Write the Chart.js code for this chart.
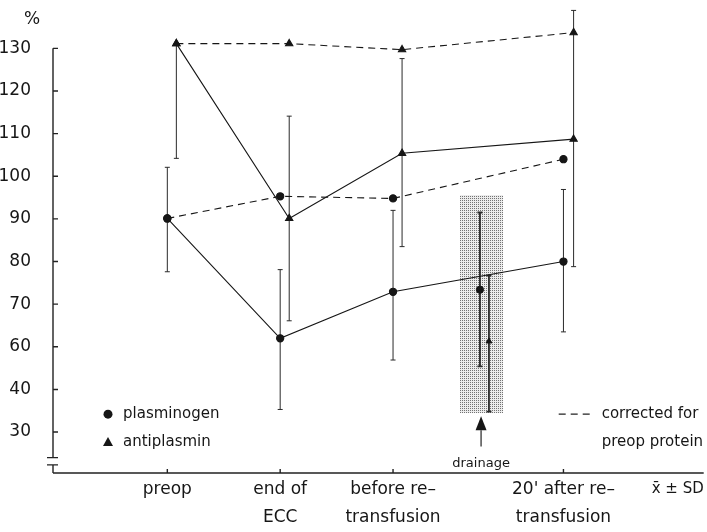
<!DOCTYPE html>
<html>
<head>
<meta charset="utf-8">
<script src="https://cdn.jsdelivr.net/npm/chart.js@4.4.0/dist/chart.umd.min.js"></script>
<style>
  html, body { margin: 0; padding: 0; background: #fff; }
  #wrap { width: 707px; height: 532px; }
</style>
</head>
<body>
<div id="wrap"><canvas id="chart" width="707" height="532"></canvas></div>
<script>
const FONT = 'DejaVu Sans';
const INK = '#161616';

// time points along the x axis (drainage sits between "before" and "20' after")
const categories = ['preop', ['end of', 'ECC'], ['before re\u2013', 'transfusion'], ["20' after re\u2013", 'transfusion']];
const categoryX = [0, 1, 2, 3.51];

// y axis tick positions and the labels printed at them (axis is broken below 60)
const yTickValues = [40, 50, 60, 70, 80, 90, 100, 110, 120, 130];
const yTickLabels = ['30', '40', '60', '70', '80', '90', '100', '110', '120', '130'];

// plasminogen (circles)
const plasminogenX = [0, 1, 2, 3.51];
const plasminogen = [90.1, 62.0, 72.9, 80.0];
const plasminogenHigh = [102.1, 78.1, 92.0, 96.9];
const plasminogenLow = [77.6, 45.3, 56.9, 63.5];
const plasminogenCorrected = [90.1, 95.3, 94.8, 104.0];

// antiplasmin (triangles)
const antiplasminX = [0.08, 1.08, 2.08, 3.6];
const antiplasmin = [131.1, 90.1, 105.4, 108.7];
const antiplasminHigh = [null, 114.1, 127.6, 138.9];
const antiplasminLow = [104.2, 66.1, 83.5, 78.8];
const antiplasminCorrected = [131.1, 131.1, 129.7, 133.7];

// drainage sample
const drainageX = [2.77, 2.85];
const drainageValues = [73.4, 61.3];
const drainageHigh = [91.5, 76.7];
const drainageLow = [55.4, 44.8];
const drainageBoxX = [2.59, 2.97];
const drainageBoxY = [44.6, 95.7];

const pts = (xs, ys) => xs.map((x, i) => ({ x: x, y: ys[i] }));

function stipple(ctx) {
  const c = document.createElement('canvas');
  c.width = 2; c.height = 2;
  const g = c.getContext('2d');
  g.fillStyle = '#ececec';
  g.fillRect(0, 0, 2, 2);
  g.fillStyle = '#737373';
  g.fillRect(0, 0, 1, 1);
  return ctx.createPattern(c, 'repeat');
}

const paperPlugin = {
  id: 'paper',
  beforeDatasetsDraw(chart) {
    const { ctx, scales: { x, y } } = chart;
    ctx.save();
    // stippled drainage box
    const bx0 = x.getPixelForValue(drainageBoxX[0]);
    const bx1 = x.getPixelForValue(drainageBoxX[1]);
    const by0 = y.getPixelForValue(drainageBoxY[1]);
    const by1 = y.getPixelForValue(drainageBoxY[0]);
    ctx.fillStyle = stipple(ctx);
    ctx.fillRect(Math.round(bx0), Math.round(by0), Math.round(bx1 - bx0), Math.round(by1 - by0));

    // error bars (x ± SD)
    ctx.strokeStyle = '#2a2a2a';
    chart.data.datasets.forEach(ds => {
      if (!ds.errLow) return;
      ctx.lineWidth = ds.errWidth || 1;
      ds.data.forEach((p, j) => {
        const px = x.getPixelForValue(p.x);
        const top = ds.errHigh[j] == null ? p.y : ds.errHigh[j];
        const yt = y.getPixelForValue(top);
        const yb = y.getPixelForValue(ds.errLow[j]);
        ctx.beginPath();
        ctx.moveTo(px, yt); ctx.lineTo(px, yb);
        ctx.moveTo(px - 2.5, yb); ctx.lineTo(px + 2.5, yb);
        if (ds.errHigh[j] != null) { ctx.moveTo(px - 2.5, yt); ctx.lineTo(px + 2.5, yt); }
        ctx.stroke();
      });
    });
    ctx.restore();
  },
  afterDraw(chart) {
    const { ctx, chartArea: a, scales: { x, y } } = chart;
    ctx.save();
    ctx.strokeStyle = '#222';
    ctx.lineWidth = 1.4;

    // y axis with break
    const yTop = y.getPixelForValue(130);
    const brk1 = y.getPixelForValue(34.0);
    const brk2 = y.getPixelForValue(32.3);
    ctx.beginPath();
    ctx.moveTo(a.left, yTop); ctx.lineTo(a.left, brk1);
    ctx.moveTo(a.left, brk2); ctx.lineTo(a.left, a.bottom);
    ctx.moveTo(a.left - 6, brk1); ctx.lineTo(a.left + 5, brk1);
    ctx.moveTo(a.left - 6, brk2); ctx.lineTo(a.left + 5, brk2);
    yTickValues.forEach(v => {
      const py = y.getPixelForValue(v);
      ctx.moveTo(a.left, py); ctx.lineTo(a.left + 5, py);
    });
    // x axis
    ctx.moveTo(a.left, a.bottom); ctx.lineTo(a.right + 2, a.bottom);
    categoryX.forEach(v => {
      const px = x.getPixelForValue(v);
      ctx.moveTo(px, a.bottom); ctx.lineTo(px, a.bottom - 4);
    });
    ctx.stroke();

    ctx.fillStyle = INK;
    ctx.textBaseline = 'middle';

    // unit label
    ctx.font = '17px ' + FONT;
    ctx.textAlign = 'center';
    ctx.fillText('%', 32, 20);

    // drainage arrow and label
    const ax = x.getPixelForValue((drainageBoxX[0] + drainageBoxX[1]) / 2);
    const tip = y.getPixelForValue(43.7);
    const head = y.getPixelForValue(40.4);
    const tail = y.getPixelForValue(36.6);
    ctx.beginPath();
    ctx.moveTo(ax, tip); ctx.lineTo(ax - 5.5, head); ctx.lineTo(ax + 5.5, head);
    ctx.closePath(); ctx.fill();
    ctx.lineWidth = 1.2;
    ctx.beginPath();
    ctx.moveTo(ax, head); ctx.lineTo(ax, tail);
    ctx.stroke();
    ctx.font = '13px ' + FONT;
    ctx.fillText('drainage', ax, a.bottom - 9);

    // legend, lower left
    const lx = a.left + 55;
    const ly1 = y.getPixelForValue(44.2);
    const ly2 = y.getPixelForValue(37.7);
    ctx.beginPath(); ctx.arc(lx, ly1, 4.5, 0, Math.PI * 2); ctx.fill();
    ctx.beginPath();
    ctx.moveTo(lx, ly2 - 5); ctx.lineTo(lx - 5, ly2 + 4); ctx.lineTo(lx + 5, ly2 + 4);
    ctx.closePath(); ctx.fill();
    ctx.font = '15px ' + FONT;
    ctx.textAlign = 'left';
    ctx.fillText('plasminogen', lx + 15, ly1);
    ctx.fillText('antiplasmin', lx + 15, ly2);

    // legend, lower right
    ctx.lineWidth = 1.3;
    ctx.setLineDash([7, 5]);
    ctx.beginPath();
    ctx.moveTo(a.right - 143, ly1); ctx.lineTo(a.right - 108, ly1);
    ctx.stroke();
    ctx.setLineDash([]);
    ctx.fillText('corrected for', a.right - 100, ly1);
    ctx.fillText('preop protein', a.right - 100, ly2);

    // x ± SD
    ctx.textAlign = 'right';
    ctx.fillText('x\u0304 \u00b1 SD', a.right + 2, a.bottom + 16);
    ctx.restore();
  }
};

const marker = { pointRadius: 3.6, pointHoverRadius: 3.6, pointBackgroundColor: INK, pointBorderColor: INK };
const tri = { pointStyle: 'triangle', pointRadius: 4.2, pointHoverRadius: 4.2, pointBackgroundColor: INK, pointBorderColor: INK };

new Chart(document.getElementById('chart'), {
  type: 'scatter',
  data: {
    datasets: [
      Object.assign({
        label: 'plasminogen',
        data: pts(plasminogenX, plasminogen),
        errHigh: plasminogenHigh, errLow: plasminogenLow,
        showLine: true, borderColor: INK, borderWidth: 1.1
      }, marker),
      Object.assign({
        label: 'plasminogen corrected',
        data: pts(plasminogenX, plasminogenCorrected),
        showLine: true, borderColor: INK, borderWidth: 1.1, borderDash: [7, 5]
      }, marker),
      Object.assign({
        label: 'antiplasmin',
        data: pts(antiplasminX, antiplasmin),
        errHigh: antiplasminHigh, errLow: antiplasminLow,
        showLine: true, borderColor: INK, borderWidth: 1.1
      }, tri),
      Object.assign({
        label: 'antiplasmin corrected',
        data: pts(antiplasminX, antiplasminCorrected),
        showLine: true, borderColor: INK, borderWidth: 1.1, borderDash: [7, 5]
      }, tri),
      Object.assign({
        label: 'drainage plasminogen',
        data: pts([drainageX[0]], [drainageValues[0]]),
        errHigh: [drainageHigh[0]], errLow: [drainageLow[0]], errWidth: 1.8,
        showLine: false
      }, marker),
      Object.assign({
        label: 'drainage antiplasmin',
        data: pts([drainageX[1]], [drainageValues[1]]),
        errHigh: [drainageHigh[1]], errLow: [drainageLow[1]], errWidth: 1.8,
        showLine: false
      }, tri, { pointRadius: 3.4 })
    ]
  },
  options: {
    responsive: false,
    devicePixelRatio: 1,
    animation: false,
    layout: { padding: { left: 0, right: 2, top: 0, bottom: 0 } },
    plugins: { legend: { display: false }, tooltip: { enabled: false } },
    scales: {
      x: {
        type: 'linear',
        min: -1.013,
        max: 4.735,
        afterBuildTicks: s => { s.ticks = categoryX.map(v => ({ value: v })); },
        afterFit: s => { s.height = 59; s.paddingLeft = 0; s.paddingRight = 0; },
        grid: { display: false },
        border: { display: false },
        ticks: {
          autoSkip: false,
          maxRotation: 0,
          padding: -5,
          color: INK,
          font: { family: FONT, size: 17, lineHeight: 1.65 },
          callback: (v, i) => categories[i]
        }
      },
      y: {
        min: 30.4,
        max: 140.1,
        afterBuildTicks: s => { s.ticks = yTickValues.map(v => ({ value: v })); },
        afterFit: s => { s.width = 53; s.paddingTop = 0; s.paddingBottom = 0; },
        grid: { display: false },
        border: { display: false },
        ticks: {
          padding: 14,
          color: INK,
          font: { family: FONT, size: 17 },
          callback: (v, i) => yTickLabels[i]
        }
      }
    }
  },
  plugins: [paperPlugin]
});
</script>
</body>
</html>
